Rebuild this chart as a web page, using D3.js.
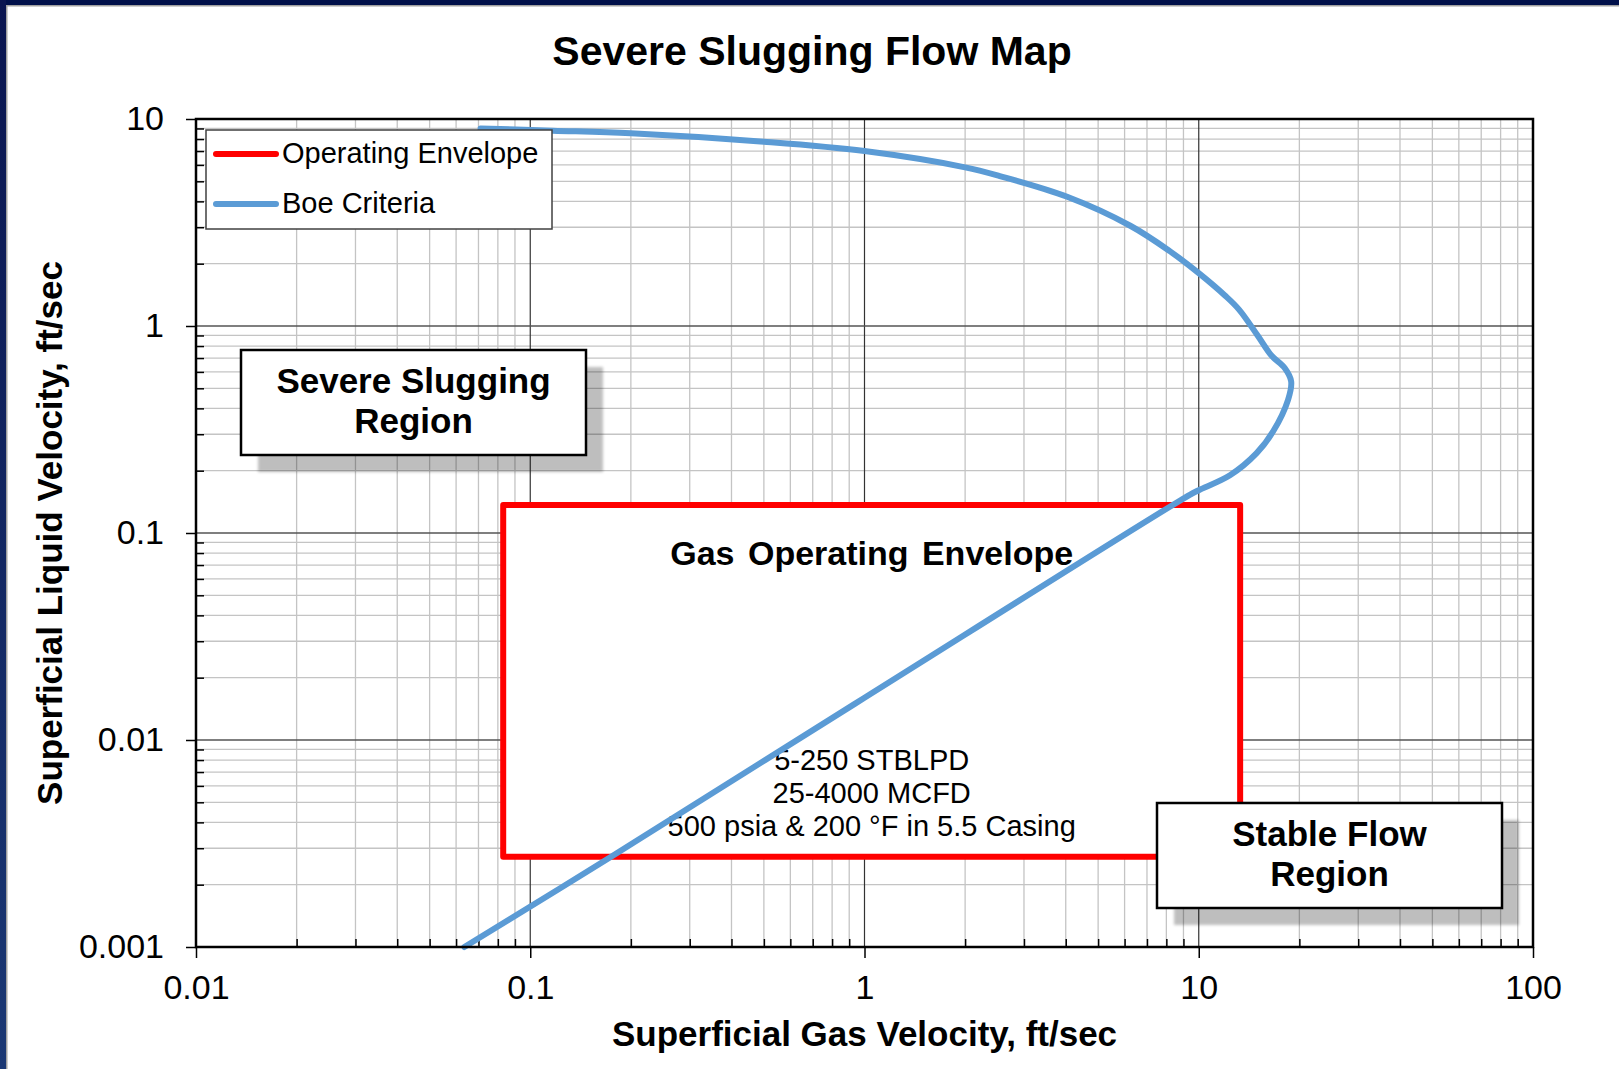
<!DOCTYPE html>
<html>
<head>
<meta charset="utf-8">
<script src="https://cdn.jsdelivr.net/npm/d3@7"></script>
<style>
  body { margin: 0; background: #fff; }
  text { font-family: "Liberation Sans", Arial, sans-serif; }
</style>
</head>
<body>
<div id="chart"></div>
<script>
// axis ticks
var xTicks = [0.01, 0.1, 1, 10, 100];
var yTicks = [0.001, 0.01, 0.1, 1, 10];

// Boe criteria curve (gas velocity, liquid velocity), ft/sec
var boeGas = [0.071, 0.117, 0.2, 0.5, 1.0, 2.0, 2.54, 4.04, 6.24, 8.19, 10.0, 12.0, 13.2,
    15.0, 16.5, 18.1, 18.9, 18.5, 16.7, 14.9, 12.4, 10.0, 9.4, 1.0, 0.176, 0.0635];
var boeLiquid = [9.0, 8.78, 8.53, 7.77, 7.0, 5.84, 5.30, 4.21, 3.05, 2.30, 1.80, 1.40, 1.20,
    0.90, 0.72, 0.625, 0.54, 0.44, 0.31, 0.243, 0.19, 0.161, 0.153, 0.016, 0.00275, 0.001];

// operating envelope corners
var envGas = [0.083, 13.3, 13.3, 0.083, 0.083];
var envLiquid = [0.00273, 0.00273, 0.1365, 0.1365, 0.00273];

var envNotes = ["5-250 STBLPD", "25-4000 MCFD", "500 psia & 200 °F in 5.5 Casing"];
var legendNames = ["Operating Envelope", "Boe Criteria"];
var legendColors = ["#ff0000", "#5b9bd5"];

function init() {
    var W = 1619, H = 1069;
    var margin = { top: 119, right: 86, bottom: 122, left: 196 };
    var width = W - margin.left - margin.right;
    var height = H - margin.top - margin.bottom;

    var svg = d3.select("#chart")
        .append("svg")
        .attr("width", W)
        .attr("height", H);

    var defs = svg.append("defs");
    var grad = defs.append("linearGradient")
        .attr("id", "side").attr("x1", 0).attr("y1", 0).attr("x2", 0).attr("y2", 1);
    grad.append("stop").attr("offset", "0%").attr("stop-color", "#0a1550");
    grad.append("stop").attr("offset", "100%").attr("stop-color", "#1b3874");
    defs.append("filter").attr("id", "blur")
        .append("feGaussianBlur").attr("stdDeviation", 1.5);

    // slide frame
    svg.append("rect").attr("width", W).attr("height", 5).attr("fill", "#00104a");
    svg.append("rect").attr("width", 6).attr("height", H).attr("fill", "url(#side)");
    svg.append("rect").attr("x", 6).attr("y", 5).attr("width", W - 6).attr("height", 1.5).attr("fill", "#a0a0a0");
    svg.append("rect").attr("x", 6).attr("y", 5).attr("width", 1.5).attr("height", H - 5).attr("fill", "#a0a0a0");

    svg.append("text")
        .attr("x", 812).attr("y", 65)
        .attr("text-anchor", "middle")
        .style("font-size", "41px").style("font-weight", "bold")
        .text("Severe Slugging Flow Map");

    var g = svg.append("g")
        .attr("transform", "translate(" + margin.left + "," + margin.top + ")");

    var xScale = d3.scaleLog().domain([0.01, 100]).range([0, width]);
    var yScale = d3.scaleLog().domain([0.001, 10]).range([height, 0]);

    var isMajor = function (v) { return Math.abs(Math.log10(v) - Math.round(Math.log10(v))) < 1e-9; };
    var xMinor = xScale.ticks().filter(function (v) { return !isMajor(v); });
    var yMinor = yScale.ticks().filter(function (v) { return !isMajor(v); });

    // grid
    var grid = g.append("g");
    grid.selectAll(".xm").data(xMinor).enter().append("line")
        .attr("x1", function (d) { return xScale(d); }).attr("x2", function (d) { return xScale(d); })
        .attr("y1", 0).attr("y2", height)
        .attr("stroke", "#c4c4c4").attr("stroke-width", 1.3);
    grid.selectAll(".ym").data(yMinor).enter().append("line")
        .attr("y1", function (d) { return yScale(d); }).attr("y2", function (d) { return yScale(d); })
        .attr("x1", 0).attr("x2", width)
        .attr("stroke", "#c4c4c4").attr("stroke-width", 1.3);
    grid.selectAll(".xM").data(xTicks.slice(1, -1)).enter().append("line")
        .attr("x1", function (d) { return xScale(d); }).attr("x2", function (d) { return xScale(d); })
        .attr("y1", 0).attr("y2", height)
        .attr("stroke", "#333").attr("stroke-width", 1.2);
    grid.selectAll(".yM").data(yTicks.slice(1, -1)).enter().append("line")
        .attr("y1", function (d) { return yScale(d); }).attr("y2", function (d) { return yScale(d); })
        .attr("x1", 0).attr("x2", width)
        .attr("stroke", "#555").attr("stroke-width", 1.6);

    // minor ticks inside
    g.append("g").attr("transform", "translate(0," + height + ")")
        .call(d3.axisBottom(xScale).tickValues(xMinor).tickSize(-8).tickSizeOuter(0).tickFormat(""))
        .call(function (a) { a.select(".domain").remove(); a.selectAll("line").attr("stroke", "#000").attr("stroke-width", 1.5); });
    g.append("g")
        .call(d3.axisLeft(yScale).tickValues(yMinor).tickSize(-8).tickSizeOuter(0).tickFormat(""))
        .call(function (a) { a.select(".domain").remove(); a.selectAll("line").attr("stroke", "#000").attr("stroke-width", 1.5); });

    var line = d3.line()
        .x(function (d) { return xScale(d[0]); })
        .y(function (d) { return yScale(d[1]); });

    // operating envelope (white-filled box)
    var env = d3.zip(envGas, envLiquid);
    g.append("path")
        .attr("d", line(env) + "Z")
        .attr("fill", "#fff")
        .attr("stroke", legendColors[0])
        .attr("stroke-width", 6)
        .attr("stroke-linejoin", "round");

    var notes = g.append("g").attr("text-anchor", "middle");
    var cx = (xScale(envGas[0]) + xScale(envGas[1])) / 2;
    notes.append("text")
        .attr("x", cx).attr("y", 565 - margin.top)
        .style("font-size", "34px").style("font-weight", "bold").style("word-spacing", "4px")
        .text("Gas Operating Envelope");
    notes.selectAll(".note").data(envNotes).enter().append("text")
        .attr("x", cx)
        .attr("y", function (d, i) { return 770 - margin.top + i * 33; })
        .style("font-size", "29px")
        .text(function (d) { return d; });

    // Boe curve
    var boe = d3.zip(boeGas, boeLiquid);
    g.append("path")
        .attr("d", line.curve(d3.curveCatmullRom.alpha(0.5))(boe))
        .attr("fill", "none")
        .attr("stroke", legendColors[1])
        .attr("stroke-width", 6)
        .attr("stroke-linecap", "round")
        .attr("stroke-linejoin", "round");

    // plot border
    g.append("rect").attr("width", width).attr("height", height)
        .attr("fill", "none").attr("stroke", "#000").attr("stroke-width", 2.5);

    // major axes
    var xAxis = g.append("g").attr("transform", "translate(0," + height + ")")
        .call(d3.axisBottom(xScale).tickValues(xTicks).tickSize(11).tickPadding(17).tickSizeOuter(0)
            .tickFormat(function (d) { return String(d); }));
    var yAxis = g.append("g")
        .call(d3.axisLeft(yScale).tickValues(yTicks).tickSize(10).tickPadding(22).tickSizeOuter(0)
            .tickFormat(function (d) { return String(d); }));
    [xAxis, yAxis].forEach(function (a) {
        a.select(".domain").remove();
        a.selectAll("line").attr("stroke", "#000").attr("stroke-width", 1.5);
        a.selectAll("text").attr("fill", "#000")
            .style("font-size", "34px")
            .style("font-family", "'Liberation Sans', Arial, sans-serif");
    });

    // axis titles
    svg.append("text")
        .attr("x", margin.left + width / 2).attr("y", 1046)
        .attr("text-anchor", "middle")
        .style("font-size", "35px").style("font-weight", "bold")
        .text("Superficial Gas Velocity, ft/sec");
    svg.append("text")
        .attr("transform", "translate(62," + (margin.top + height / 2) + ") rotate(-90)")
        .attr("text-anchor", "middle")
        .style("font-size", "35px").style("font-weight", "bold")
        .text("Superficial Liquid Velocity, ft/sec");

    // region call-outs
    var callouts = [
        { x: 241, y: 350, lines: ["Severe Slugging", "Region"], base: 393 },
        { x: 1157, y: 803, lines: ["Stable Flow", "Region"], base: 846 }
    ];
    callouts.forEach(function (c) {
        var bw = 345, bh = 105;
        svg.append("rect").attr("x", c.x + 17).attr("y", c.y + 17)
            .attr("width", bw).attr("height", bh)
            .attr("fill", "#000").attr("opacity", 0.25).attr("filter", "url(#blur)");
        svg.append("rect").attr("x", c.x).attr("y", c.y)
            .attr("width", bw).attr("height", bh)
            .attr("fill", "#fff").attr("stroke", "#000").attr("stroke-width", 2.5);
        svg.selectAll(null).data(c.lines).enter().append("text")
            .attr("x", c.x + bw / 2)
            .attr("y", function (d, i) { return c.base + i * 40; })
            .attr("text-anchor", "middle")
            .style("font-size", "35px").style("font-weight", "bold")
            .text(function (d) { return d; });
    });

    // legend
    var legend = svg.append("g").attr("transform", "translate(206,130)");
    legend.append("rect").attr("width", 346).attr("height", 99)
        .attr("fill", "#fff").attr("stroke", "#404040").attr("stroke-width", 1.5);
    var items = legend.selectAll(".item").data(legendNames).enter().append("g")
        .attr("transform", function (d, i) { return "translate(0," + (24 + i * 50) + ")"; });
    items.append("line").attr("x1", 10).attr("x2", 70)
        .attr("stroke", function (d, i) { return legendColors[i]; })
        .attr("stroke-width", 6).attr("stroke-linecap", "round");
    items.append("text").attr("x", 76).attr("y", 9)
        .style("font-size", "29px")
        .text(function (d) { return d; });
}

window.onload = init;
</script>
</body>
</html>
